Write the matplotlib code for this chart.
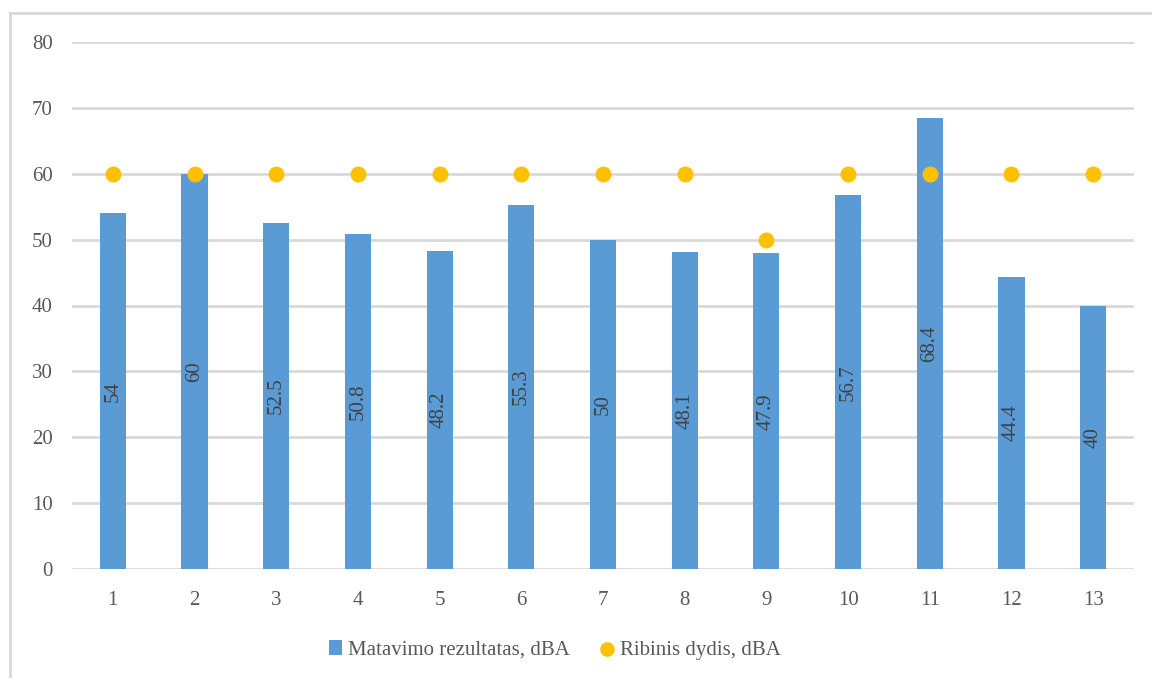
import matplotlib.pyplot as plt
from matplotlib.lines import Line2D

points = [str(i) for i in range(1, 14)]
measured = [54, 60, 52.5, 50.8, 48.2, 55.3, 50, 48.1, 47.9, 56.7, 68.4, 44.4, 40]
limit = [60, 60, 60, 60, 60, 60, 60, 60, 50, 60, 60, 60, 60]
yticks = [0, 10, 20, 30, 40, 50, 60, 70, 80]

plt.rcParams['font.family'] = ['Liberation Serif', 'DejaVu Serif']
txt = '#595959'

W, H = 1152, 678
fig = plt.figure(figsize=(W / 100, H / 100), dpi=100)
ax = fig.add_axes([72 / W, 1 - 569 / H, (1134 - 72) / W, (569 - 42) / H])

x = list(range(len(points)))
bars = ax.bar(x, measured, width=0.32, color='#5B9BD5', zorder=2,
              label='Matavimo rezultatas, dBA')
dots = ax.scatter(x, limit, s=110, color='#FFC000', zorder=3,
                  label='Ribinis dydis, dBA')

for xi, v in zip(x, measured):
    ax.text(xi, v / 2, f'{v:g}', rotation=90, ha='center', va='center',
            fontsize=15, color='#404040', zorder=4)

ax.set_xlim(-0.5, len(points) - 0.5)
ax.set_ylim(0, 80)
ax.set_yticks(yticks)
ax.set_xticks(x, points)
ax.grid(axis='y', color='#D9D9D9', linewidth=2, zorder=0)
ax.set_axisbelow(True)
for s in ax.spines.values():
    s.set_visible(False)
ax.tick_params(length=0, labelsize=15, labelcolor=txt)
ax.tick_params(axis='y', pad=14)
ax.tick_params(axis='x', pad=16)

leg = fig.legend(handles=[bars, dots], loc='center',
                 bbox_to_anchor=(555 / W, 1 - 650 / H), ncol=2,
                 frameon=False, fontsize=15, labelcolor=txt,
                 handlelength=0.6, handletextpad=0.3, columnspacing=1.5)
for hnd in leg.legend_handles:
    if hasattr(hnd, 'set_sizes'):
        hnd.set_sizes([90])

# outer chart frame (left and top edges)
fig.add_artist(Line2D([10 / W, 10 / W], [0, 1 - 13 / H], transform=fig.transFigure,
                      color='#D9D9D9', linewidth=2))
fig.add_artist(Line2D([10 / W, 1], [1 - 13 / H, 1 - 13 / H], transform=fig.transFigure,
                      color='#D9D9D9', linewidth=2))

fig.savefig('out.png', dpi=100, facecolor='white')
